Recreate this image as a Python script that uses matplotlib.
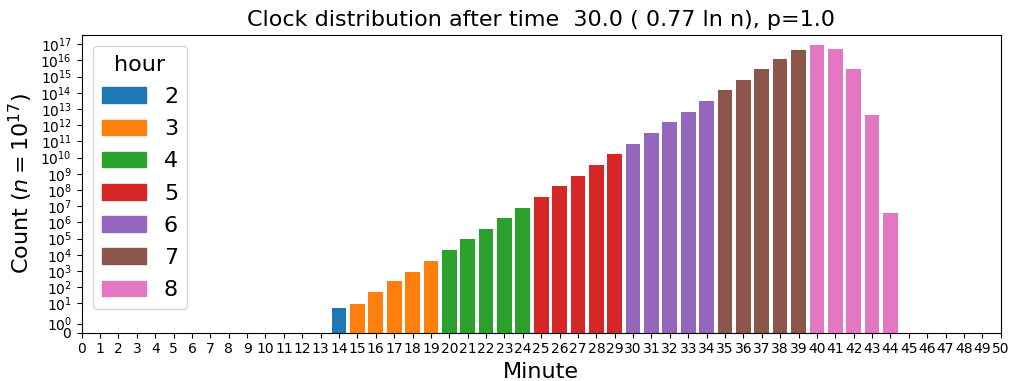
import matplotlib
matplotlib.use('Agg')
import matplotlib.pyplot as plt
from matplotlib.patches import Patch
from matplotlib.ticker import NullLocator

OUTPUT_FILE = 'out.png'

# minute -> count (counts)
minutes = list(range(10, 45))
hours = [2, 2, 2, 2, 2,
         3, 3, 3, 3, 3,
         4, 4, 4, 4, 4,
         5, 5, 5, 5, 5,
         6, 6, 6, 6, 6,
         7, 7, 7, 7, 7,
         8, 8, 8, 8, 8]
counts = [0, 0, 0, 0, 5,
          9, 50, 240, 870, 4.1e3,
          2.0e4, 9.4e4, 3.9e5, 1.9e6, 7.7e6,
          3.7e7, 1.8e8, 7.3e8, 3.5e9, 1.7e10,
          6.9e10, 3.3e11, 1.6e12, 6.5e12, 3.1e13,
          1.5e14, 6.2e14, 2.9e15, 1.2e16, 4.4e16,
          8.9e16, 5.0e16, 2.9e15, 4.3e12, 3.8e6]
hour_levels = [2, 3, 4, 5, 6, 7, 8]
palette = ['tab:blue', 'tab:orange', 'tab:green', 'tab:red',
           'tab:purple', 'tab:brown', 'tab:pink']


def generate_graph():
    fig = plt.figure(figsize=(10.11, 3.81), dpi=100)
    ax = fig.add_axes([0.0808, 0.1268, 0.9090, 0.7822])

    colors = [palette[hour_levels.index(h)] for h in hours]
    ax.bar(minutes, counts, width=0.8, color=colors, linewidth=0)

    # symlog axis, default linthresh=2
    ax.set_yscale('symlog')
    ax.set_yticks([0] + [10 ** k for k in range(18)])
    ax.yaxis.set_minor_locator(NullLocator())
    ax.set_ylim(0, 3.9e17)

    ax.set_xlim(0, 50)
    ax.set_xticks(range(51))
    ax.tick_params(axis='both', labelsize=10)

    ax.set_xlabel('Minute', fontsize=16)
    ax.set_ylabel('Count ($n = 10^{17}$)', fontsize=16)
    ax.set_title('Clock distribution after time  30.0 ( 0.77 ln n), p=1.0', fontsize=16)

    handles = [Patch(color=c, label=str(h)) for h, c in zip(hour_levels, palette)]
    ax.legend(handles=handles, title='hour', loc='upper left',
              fontsize=16, title_fontsize=16, labelspacing=0.55)

    fig.savefig(OUTPUT_FILE)


if __name__ == "__main__":
    generate_graph()
